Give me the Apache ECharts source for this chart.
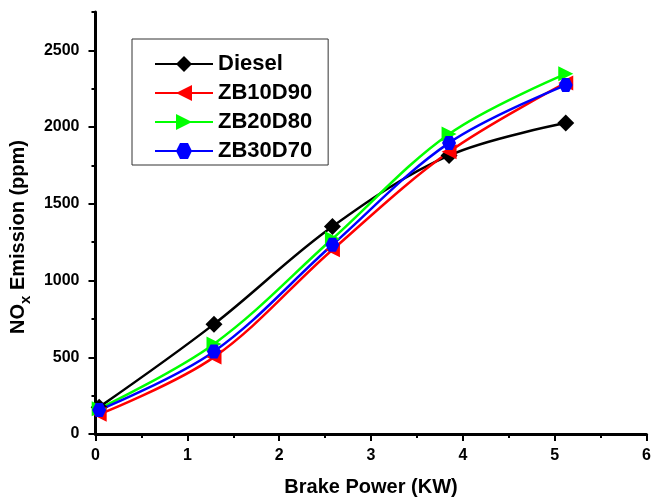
<!DOCTYPE html>
<html>
<head>
<meta charset="utf-8">
<script src="https://cdn.jsdelivr.net/npm/echarts@6/dist/echarts.min.js"></script>
<style>
  html, body { margin: 0; padding: 0; background: #fff; }
  #chart { width: 654px; height: 502px; }
</style>
</head>
<body>
<div id="chart"></div>
<script>
// Brake power (kW) at each load step
const powerKW = [0.04, 1.29, 2.58, 3.85, 5.12];

// NOx emission (ppm) per fuel blend
const diesel  = [175, 716, 1352, 1815, 2026];
const zb10d90 = [128, 501, 1201, 1839, 2288];
const zb20d80 = [165, 587, 1272, 1955, 2347];
const zb30d70 = [156, 538, 1233, 1897, 2274];

// Y-axis tick positions
const yMajorTicks = [0, 500, 1000, 1500, 2000, 2500];
const yMinorTicks = [250, 750, 1250, 1750, 2250, 2750];

const FONT = 'Liberation Sans';
const hexagon = 'path://M0,50 L25,7 L75,7 L100,50 L75,93 L25,93 Z';

function pairs(ys) {
  return ys.map((y, i) => [powerKW[i], y]);
}

function lineSeries(name, ys, color, symbol, size, rotate) {
  return {
    name: name,
    type: 'line',
    data: pairs(ys),
    smooth: 0.35,
    symbol: symbol,
    symbolSize: size,
    symbolRotate: rotate || 0,
    showAllSymbol: true,
    lineStyle: { color: color, width: 2.5 },
    itemStyle: { color: color, borderWidth: 0 },
    emphasis: { disabled: true },
    yAxisIndex: 0
  };
}

const chart = echarts.init(document.getElementById('chart'), null, { renderer: 'canvas' });

const tickLabel = { fontFamily: FONT, fontWeight: 'bold', fontSize: 16, color: '#000' };

chart.setOption({
  animation: false,
  backgroundColor: '#fff',
  grid: { left: 92, right: 6, top: 12, bottom: 64 },
  legend: {
    orient: 'vertical',
    left: 132,
    top: 39,
    padding: [14, 16, 3, 22],
    itemWidth: 58,
    itemHeight: 20,
    itemGap: 7,
    borderColor: '#333',
    borderWidth: 1,
    backgroundColor: '#fff',
    textStyle: { fontFamily: FONT, fontWeight: 'bold', fontSize: 22, lineHeight: 22, color: '#000' },
    data: ['Diesel', 'ZB10D90', 'ZB20D80', 'ZB30D70']
  },
  xAxis: {
    type: 'value',
    min: 0,
    max: 6,
    interval: 1,
    name: 'Brake Power (KW)',
    nameLocation: 'middle',
    nameGap: 43,
    nameTextStyle: { fontFamily: FONT, fontWeight: 'bold', fontSize: 20, lineHeight: 20, color: '#000' },
    axisLine: { show: true, onZero: false, lineStyle: { color: '#000', width: 3 } },
    axisTick: { show: true, inside: false, length: 7, lineStyle: { color: '#000', width: 2 } },
    minorTick: { show: true, splitNumber: 2, length: 4, lineStyle: { color: '#000', width: 2 } },
    axisLabel: Object.assign({ margin: 14 }, tickLabel),
    splitLine: { show: false },
    minorSplitLine: { show: false }
  },
  yAxis: [
    {
      type: 'value',
      min: 0,
      max: 2750,
      position: 'left',
      name: '{b|NO}{s|x}{b| Emission (ppm)}',
      nameLocation: 'middle',
      nameRotate: 90,
      nameGap: 55,
      nameTextStyle: {
        padding: [0, 28, 0, 0],
        rich: {
          b: { fontFamily: FONT, fontWeight: 'bold', fontSize: 20, lineHeight: 20, color: '#000', verticalAlign: 'top' },
          s: { fontFamily: FONT, fontWeight: 'bold', fontSize: 15, lineHeight: 15, color: '#000', verticalAlign: 'top', padding: [10, 0, 0, 0] }
        }
      },
      axisLine: { show: true, onZero: false, lineStyle: { color: '#000', width: 3 } },
      axisTick: { show: true, inside: false, length: 7, customValues: yMajorTicks, lineStyle: { color: '#000', width: 2 } },
      axisLabel: Object.assign({ margin: 16, customValues: yMajorTicks, formatter: v => String(v) }, tickLabel),
      splitLine: { show: false }
    },
    {
      type: 'value',
      min: 0,
      max: 2750,
      position: 'left',
      axisLine: { show: false },
      axisTick: { show: true, inside: false, length: 4, customValues: yMinorTicks, lineStyle: { color: '#000', width: 2 } },
      axisLabel: { show: false },
      splitLine: { show: false }
    }
  ],
  series: [
    lineSeries('Diesel', diesel, '#000000', 'diamond', 17, 0),
    lineSeries('ZB10D90', zb10d90, '#ff0000', 'triangle', [15, 15], 90),
    lineSeries('ZB20D80', zb20d80, '#00ff00', 'triangle', [15, 15], -90),
    lineSeries('ZB30D70', zb30d70, '#0000ff', hexagon, 14, 0)
  ]
});
</script>
</body>
</html>
